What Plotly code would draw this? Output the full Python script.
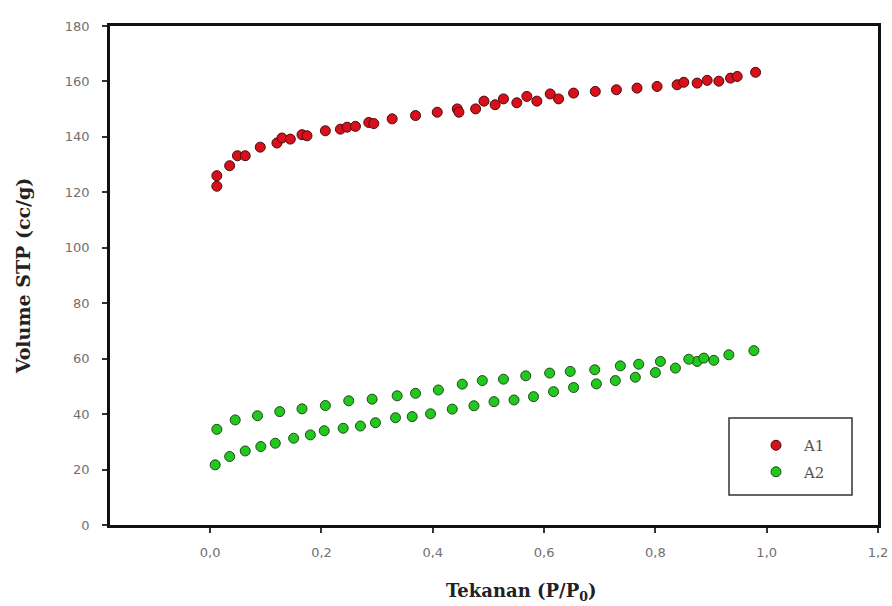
import plotly.graph_objects as go

# A1 isotherm (adsorption + desorption points)
a1_p = [0.012, 0.012, 0.035, 0.049, 0.063, 0.090, 0.120, 0.129, 0.144, 0.165, 0.174,
        0.207, 0.234, 0.246, 0.261, 0.285, 0.294, 0.327, 0.369, 0.408, 0.444, 0.447,
        0.477, 0.492, 0.512, 0.527, 0.551, 0.569, 0.587, 0.611, 0.626, 0.653, 0.692,
        0.730, 0.767, 0.803, 0.839, 0.851, 0.875, 0.893, 0.914, 0.935, 0.947, 0.980]
a1_v = [122.2, 126.0, 129.6, 133.2, 133.2, 136.3, 137.8, 139.6, 139.2, 140.8, 140.4,
        142.2, 142.8, 143.5, 143.8, 145.2, 144.8, 146.5, 147.7, 148.9, 150.1, 148.9,
        150.1, 152.9, 151.6, 153.7, 152.3, 154.6, 152.9, 155.5, 153.7, 155.8, 156.4,
        157.0, 157.6, 158.2, 158.8, 159.7, 159.4, 160.4, 160.1, 161.2, 161.8, 163.3]

# A2 isotherm: adsorption branch (lower) and desorption branch (upper)
a2_ads_p = [0.009, 0.035, 0.063, 0.091, 0.117, 0.150, 0.180, 0.205, 0.239, 0.270,
            0.297, 0.333, 0.363, 0.396, 0.435, 0.474, 0.510, 0.546, 0.581, 0.617,
            0.653, 0.694, 0.728, 0.764, 0.800, 0.836, 0.875, 0.905]
a2_ads_v = [21.7, 24.7, 26.7, 28.3, 29.5, 31.3, 32.5, 34.0, 34.9, 35.7,
            36.9, 38.7, 39.1, 40.1, 41.8, 43.0, 44.5, 45.1, 46.3, 48.1,
            49.6, 50.9, 52.1, 53.3, 55.0, 56.6, 59.0, 59.4]
a2_des_p = [0.012, 0.045, 0.085, 0.125, 0.165, 0.207, 0.249, 0.291, 0.336, 0.369,
            0.410, 0.453, 0.489, 0.527, 0.567, 0.610, 0.647, 0.691, 0.737, 0.770,
            0.809, 0.860, 0.887, 0.932, 0.977]
a2_des_v = [34.5, 37.9, 39.4, 40.9, 41.9, 43.1, 44.8, 45.4, 46.6, 47.5,
            48.7, 50.8, 52.1, 52.6, 53.8, 54.8, 55.4, 56.0, 57.4, 58.0,
            59.0, 59.8, 60.2, 61.4, 62.9]

a2_p = a2_ads_p + a2_des_p
a2_v = a2_ads_v + a2_des_v

x_ticks = [0.0, 0.2, 0.4, 0.6, 0.8, 1.0, 1.2]
x_labels = ["0,0", "0,2", "0,4", "0,6", "0,8", "1,0", "1,2"]
y_ticks = [0, 20, 40, 60, 80, 100, 120, 140, 160, 180]
y_labels = ["0", "20", "40", "60", "80", "100", "120", "140", "160", "180"]

x_title = "<b>Tekanan (P/P<sub>0</sub>)</b>"
y_title = "<b>Volume STP (cc/g)</b>"

serif = "DejaVu Serif, Liberation Serif, serif"
sans = "DejaVu Sans, Verdana, sans-serif"

fig = go.Figure()
fig.add_trace(go.Scatter(
    x=a1_p, y=a1_v, mode="markers", name="A1", legendgroup="a1",
    marker=dict(size=10, color="#d8101c", line=dict(color="#4a0a0a", width=1)),
))
fig.add_trace(go.Scatter(
    x=a2_p, y=a2_v, mode="markers", name="A2", legendgroup="a2",
    marker=dict(size=10, color="#22c81e", line=dict(color="#1f4a1a", width=1)),
))

# legend frame
fig.add_shape(type="rect", xref="paper", yref="paper",
              x0=(729 - 110) / 768, x1=(852 - 110) / 768,
              y0=(525 - 495) / 499, y1=(525 - 418) / 499,
              line=dict(color="#333333", width=1.5), fillcolor="rgba(0,0,0,0)")

# x-axis title (offset right as in the reference)
fig.add_annotation(text=x_title, xref="paper", yref="paper",
                   x=(521 - 110) / 768, y=-(592 - 525) / 499,
                   xanchor="center", yanchor="middle", showarrow=False,
                   font=dict(family=serif, size=18, color="#222222"))

fig.update_layout(
    width=892, height=606,
    margin=dict(l=110, r=14, t=26, b=81),
    paper_bgcolor="white", plot_bgcolor="white",
    font=dict(family=sans, color="#666666", size=12),
    showlegend=True,
    legend=dict(
        x=(748 - 110) / 768, y=(525 - 429) / 499, xanchor="left", yanchor="top",
        bgcolor="rgba(0,0,0,0)", borderwidth=0,
        font=dict(family=serif, size=15, color="#555555"),
        itemwidth=46, traceorder="grouped", tracegroupgap=4,
    ),
    xaxis=dict(
        range=[-0.18, 1.2], tickvals=x_ticks, ticktext=x_labels,
        showgrid=False, zeroline=False, automargin=False,
        showline=True, linecolor="#111111", linewidth=2.5, mirror=True,
        ticks="outside", ticklen=5, tickwidth=1.5, tickcolor="#333333",
        ticklabelstandoff=9,
        tickfont=dict(family=sans, size=13, color="#707070"),
    ),
    yaxis=dict(
        range=[0, 180], tickvals=y_ticks, ticktext=y_labels,
        showgrid=False, zeroline=False, automargin=False,
        showline=True, linecolor="#111111", linewidth=2.5, mirror=True,
        ticks="outside", ticklen=5, tickwidth=1.5, tickcolor="#333333",
        ticklabelstandoff=10,
        tickfont=dict(family=sans, size=13, color="#707070"),
        title=dict(text=y_title,
                   font=dict(family=serif, size=19, color="#222222"), standoff=30),
    ),
)

fig.write_html("out.html", config={"displayModeBar": False},
               post_script="document.body.style.margin='0';")
